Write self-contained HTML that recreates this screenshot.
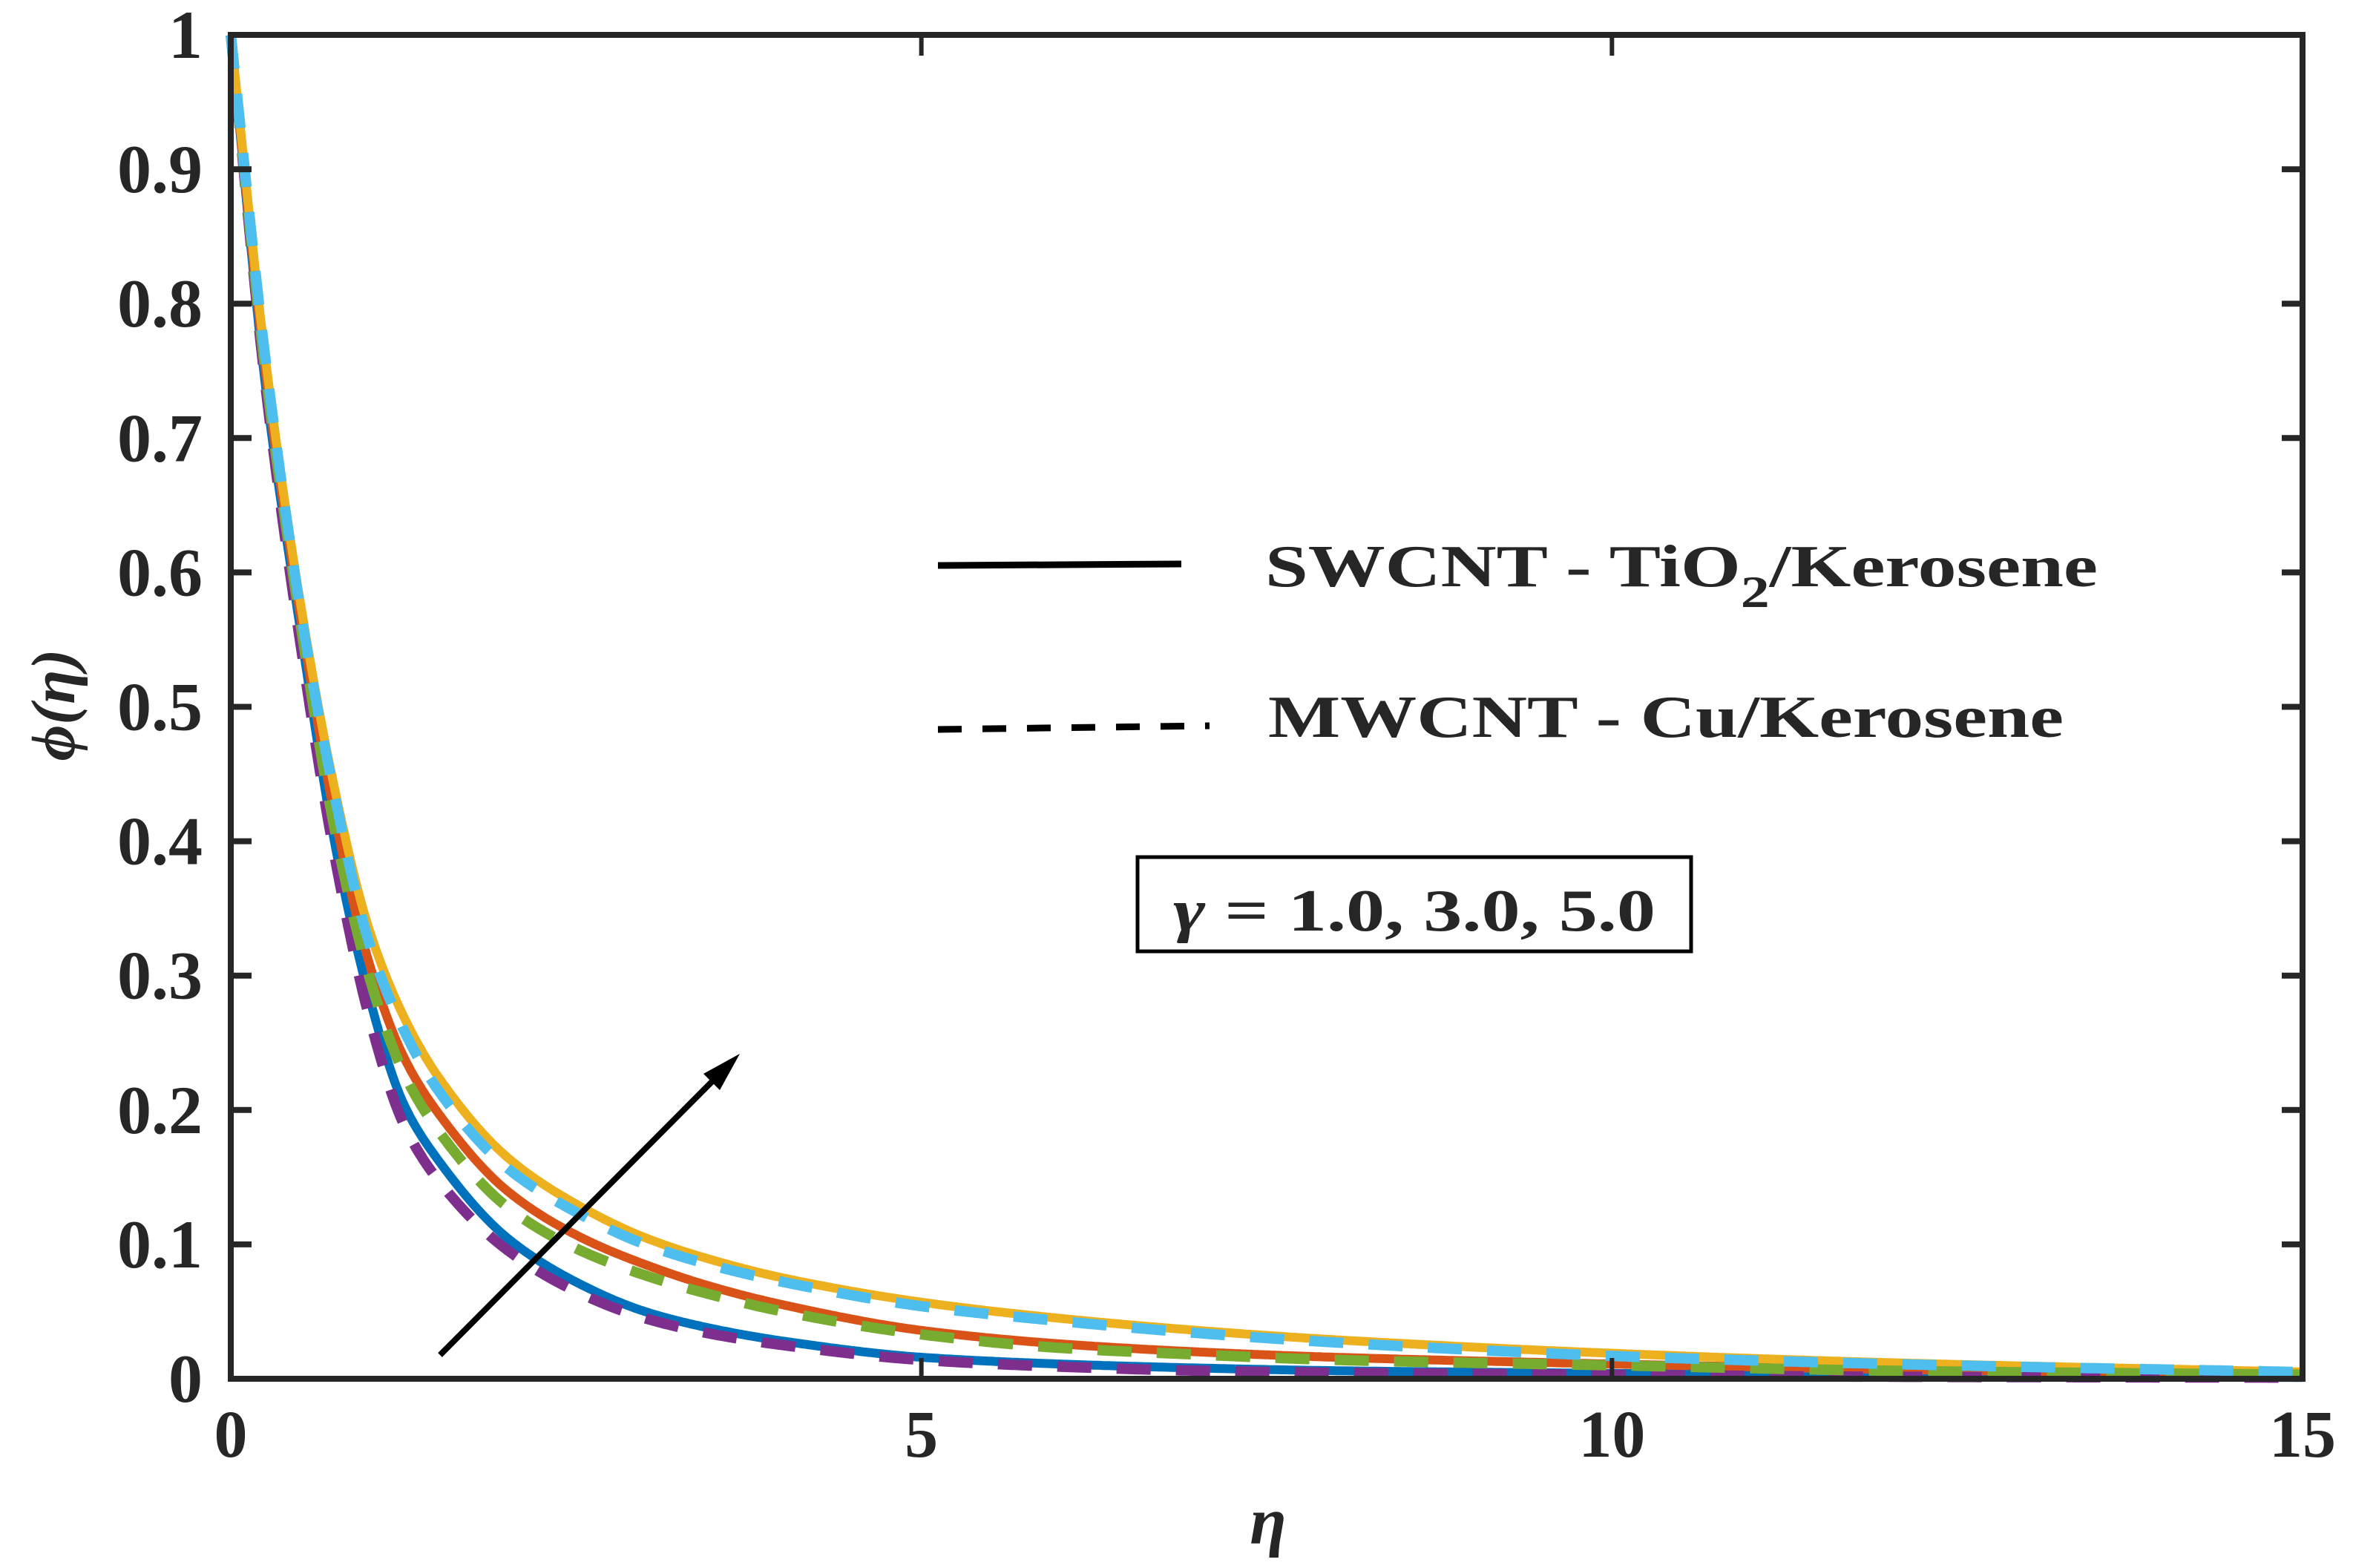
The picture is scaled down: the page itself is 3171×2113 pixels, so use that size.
<!DOCTYPE html>
<html><head><meta charset="utf-8"><style>
html,body{margin:0;padding:0;background:#fff;}
svg{display:block;}
text{font-family:"Liberation Serif","Times New Roman",serif;font-weight:bold;fill:#262626;}
</style></head><body>
<svg id="chart" width="3171" height="2113" viewBox="0 0 3171 2113" xmlns="http://www.w3.org/2000/svg">
<g id="curves"></g>
<g id="axes"></g>
<g>
  <line x1="1264" y1="762" x2="1592" y2="760" stroke="#000" stroke-width="9"/>
  <text x="1705" y="790" font-size="80" textLength="1122" lengthAdjust="spacingAndGlyphs">SWCNT - TiO<tspan font-size="60" dy="28">2</tspan><tspan dy="-28">/Kerosene</tspan></text>
  <line x1="1264" y1="983" x2="1630" y2="978" stroke="#000" stroke-width="9" stroke-dasharray="32,28"/>
  <text x="1709" y="993" font-size="80" textLength="1072" lengthAdjust="spacingAndGlyphs">MWCNT - Cu/Kerosene</text>
</g>
<g>
  <rect x="1533" y="1155" width="746" height="127" fill="#fff" stroke="#000" stroke-width="5"/>
  <text x="1906" y="1254" font-size="80" text-anchor="middle" textLength="650" lengthAdjust="spacingAndGlyphs"><tspan font-style="italic">γ</tspan> = 1.0, 3.0, 5.0</text>
</g>
<g>
  <line x1="593" y1="1826" x2="970" y2="1447" stroke="#000" stroke-width="8"/>
  <polygon points="997,1420 948,1447 970,1469" fill="#000"/>
</g>
<text x="1709" y="2080" font-size="90" font-style="italic" text-anchor="middle">η</text>
<text transform="translate(100,950) rotate(-90)" font-size="84" font-style="italic" font-weight="normal" text-anchor="middle">ϕ(η)</text>
</svg>
<script>
const etaGrid=[0,0.25,0.5,0.75,1,1.25,1.5,2,2.5,3,3.5,4,5,6,7,8,10,12,15];
const swcntG1=[1,0.74,0.56,0.40,0.285,0.205,0.163,0.105,0.072,0.05,0.037,0.028,0.016,0.011,0.008,0.006,0.004,0.002,0.001];
const swcntG3=[1,0.75,0.57,0.42,0.31,0.24,0.198,0.14,0.107,0.085,0.068,0.055,0.036,0.026,0.02,0.016,0.011,0.007,0.003];
const swcntG5=[1,0.76,0.58,0.44,0.335,0.27,0.225,0.165,0.13,0.105,0.088,0.075,0.057,0.045,0.036,0.029,0.019,0.012,0.005];
const mwcntG1=[1,0.74,0.55,0.39,0.27,0.19,0.148,0.096,0.065,0.045,0.033,0.025,0.014,0.009,0.006,0.0045,0.003,0.0015,0.0008];
const mwcntG3=[1,0.75,0.565,0.41,0.30,0.228,0.185,0.128,0.097,0.077,0.062,0.05,0.033,0.023,0.018,0.014,0.01,0.006,0.003];
const mwcntG5=[1,0.76,0.575,0.435,0.325,0.26,0.215,0.157,0.124,0.1,0.084,0.072,0.054,0.043,0.034,0.027,0.017,0.011,0.005];
const xTicks=[0,5,10,15];
const yTicks=[0,0.1,0.2,0.3,0.4,0.5,0.6,0.7,0.8,0.9,1];
const yTickLabels=["0","0.1","0.2","0.3","0.4","0.5","0.6","0.7","0.8","0.9","1"];

const L=311,R=3103,T=47,B=1858;
const sx=v=>L+(v-0)/(15-0)*(R-L);
const sy=v=>B-(v-0)/(1-0)*(B-T);
const NS="http://www.w3.org/2000/svg";
function mk(tag,attrs,parent){const e=document.createElementNS(NS,tag);for(const k in attrs)e.setAttribute(k,attrs[k]);parent.appendChild(e);return e;}
function monotone(xs,ys){
  const n=xs.length,d=[],m=new Array(n);
  for(let i=0;i<n-1;i++)d.push((ys[i+1]-ys[i])/(xs[i+1]-xs[i]));
  m[0]=d[0];m[n-1]=d[n-2];
  for(let i=1;i<n-1;i++){
    if(d[i-1]*d[i]<=0)m[i]=0;
    else{const h0=xs[i]-xs[i-1],h1=xs[i+1]-xs[i];const w1=2*h1+h0,w2=h1+2*h0;m[i]=(w1+w2)/(w1/d[i-1]+w2/d[i]);}
  }
  return x=>{
    let i=0;while(i<n-2&&x>xs[i+1])i++;
    const h=xs[i+1]-xs[i],t=(x-xs[i])/h;
    const h00=2*t*t*t-3*t*t+1,h10=t*t*t-2*t*t+t,h01=-2*t*t*t+3*t*t,h11=t*t*t-t*t;
    return h00*ys[i]+h10*h*m[i]+h01*ys[i+1]+h11*h*m[i+1];
  };
}
function pathFor(xs,ys){
  const f=monotone(xs,ys);let d="";
  for(let k=0;k<=900;k++){const x=15*Math.pow(k/900,1.6);d+=(k?"L":"M")+sx(x).toFixed(1)+","+sy(f(x)).toFixed(1);}
  return d;
}
const curves=document.getElementById('curves');
const series=[
 [swcntG1,"#0072BD",null,"curve-swcnt-gamma1"],
 [swcntG3,"#D95319",null,"curve-swcnt-gamma3"],
 [swcntG5,"#EDB120",null,"curve-swcnt-gamma5"],
 [mwcntG1,"#7E2F8E","46,34","curve-mwcnt-gamma1"],
 [mwcntG3,"#77AC30","46,34","curve-mwcnt-gamma3"],
 [mwcntG5,"#4DBEEE","46,34","curve-mwcnt-gamma5"]];
for(const s of series){
  const a={d:pathFor(etaGrid,s[0]),fill:"none",stroke:s[1],"stroke-width":s[2]?14:12};
  if(s[2])a["stroke-dasharray"]=s[2];
  const e=mk('path',a,curves);
  
  
}
const ax=document.getElementById('axes');
const fr=mk('rect',{x:L,y:T,width:R-L,height:B-T,fill:"none",stroke:"#262626","stroke-width":8},ax);


xTicks.forEach(v=>{
  const x=sx(v);
  mk('line',{x1:x,y1:B,x2:x,y2:B-28,stroke:"#262626","stroke-width":6},ax);
  mk('line',{x1:x,y1:T,x2:x,y2:T+28,stroke:"#262626","stroke-width":6},ax);
  const t=mk('text',{x:x,y:1963,"font-size":90,"text-anchor":"middle"},ax);
  t.textContent=String(v);
  
  
});
yTicks.forEach((v,i)=>{
  const y=sy(v);
  mk('line',{x1:L,y1:y,x2:L+28,y2:y,stroke:"#262626","stroke-width":8},ax);
  mk('line',{x1:R,y1:y,x2:R-28,y2:y,stroke:"#262626","stroke-width":8},ax);
  const t=mk('text',{x:273,y:y+31,"font-size":92,"text-anchor":"end"},ax);
  t.textContent=yTickLabels[i];
  
  
});
</script>
</body></html>
